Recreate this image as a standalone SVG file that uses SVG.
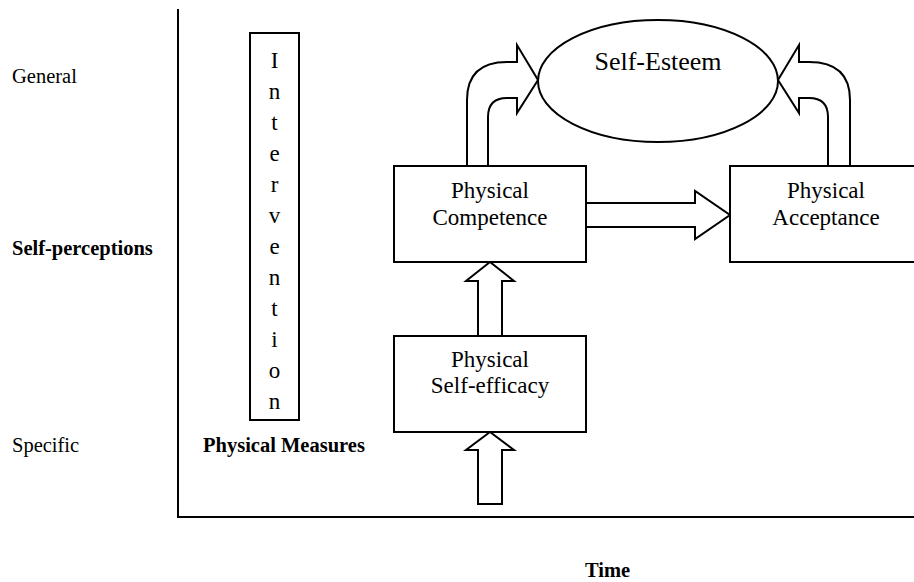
<svg xmlns="http://www.w3.org/2000/svg" width="914" height="582" viewBox="0 0 914 582">
<style>
.ln{fill:none;stroke:#000;stroke-width:2}
.shp{fill:#fff;stroke:#000;stroke-width:2;stroke-linejoin:miter}
.t{font-family:"Liberation Serif","Times New Roman",serif;fill:#000}
.lbl{font-size:20.5px}
.b{font-weight:bold}
.nt{font-size:23px;text-anchor:middle}
</style>
<rect x="0" y="0" width="914" height="582" fill="#fff"/>
<g id="axes">
<line class="ln" x1="178" y1="9" x2="178" y2="518"/>
<line class="ln" x1="177" y1="517" x2="914" y2="517"/>
</g>
<g id="labels">
<text class="t lbl" x="12" y="83">General</text>
<text class="t lbl b" x="12" y="255">Self-perceptions</text>
<text class="t lbl" x="12" y="452">Specific</text>
<text class="t lbl b" x="203" y="452">Physical Measures</text>
<text class="t lbl b" x="585" y="577">Time</text>
</g>
<g id="connectors">
<path class="shp" d="M467,166 L467,100 Q467,62 507,62 L517,62 L517,45 L538,80 L517,113 L517,98 L507,98 Q488,98 488,117 L488,166 Z"/>
<path class="shp" d="M850,166 L850,100 Q850,62 809,62 L799,62 L799,45 L778,80 L799,113 L799,98 L809,98 Q828,98 828,117 L828,166 Z"/>
<path class="shp" d="M586,203 L695,203 L695,191 L730,215 L695,239 L695,227 L586,227 Z"/>
<path class="shp" d="M478,336 L478,281 L466,281 L490,262 L514,281 L502,281 L502,336 Z"/>
<path class="shp" d="M478,504 L478,450 L466,450 L490,432 L514,450 L502,450 L502,504 Z"/>
</g>
<g id="intervention">
<rect class="shp" x="250" y="33" width="49" height="387"/>
<text class="t nt" x="274.5" y="68">I</text>
<text class="t nt" x="274.5" y="99">n</text>
<text class="t nt" x="274.5" y="130">t</text>
<text class="t nt" x="274.5" y="161">e</text>
<text class="t nt" x="274.5" y="192">r</text>
<text class="t nt" x="274.5" y="223">v</text>
<text class="t nt" x="274.5" y="254">e</text>
<text class="t nt" x="274.5" y="285">n</text>
<text class="t nt" x="274.5" y="316">t</text>
<text class="t nt" x="274.5" y="347">i</text>
<text class="t nt" x="274.5" y="378">o</text>
<text class="t nt" x="274.5" y="409">n</text>
</g>
<g id="self-esteem">
<ellipse class="shp" cx="658" cy="81" rx="120" ry="61"/>
<text class="t" x="658" y="70" font-size="26" text-anchor="middle">Self-Esteem</text>
</g>
<g id="physical-competence">
<rect class="shp" x="394" y="166" width="192" height="96"/>
<text class="t nt" x="490" y="198">Physical</text>
<text class="t nt" x="490" y="225">Competence</text>
</g>
<g id="physical-acceptance">
<rect class="shp" x="730" y="166" width="192" height="96"/>
<text class="t nt" x="826" y="198">Physical</text>
<text class="t nt" x="826" y="225">Acceptance</text>
</g>
<g id="physical-self-efficacy">
<rect class="shp" x="394" y="336" width="192" height="96"/>
<text class="t nt" x="490" y="367">Physical</text>
<text class="t nt" x="490" y="393">Self-efficacy</text>
</g>
</svg>
